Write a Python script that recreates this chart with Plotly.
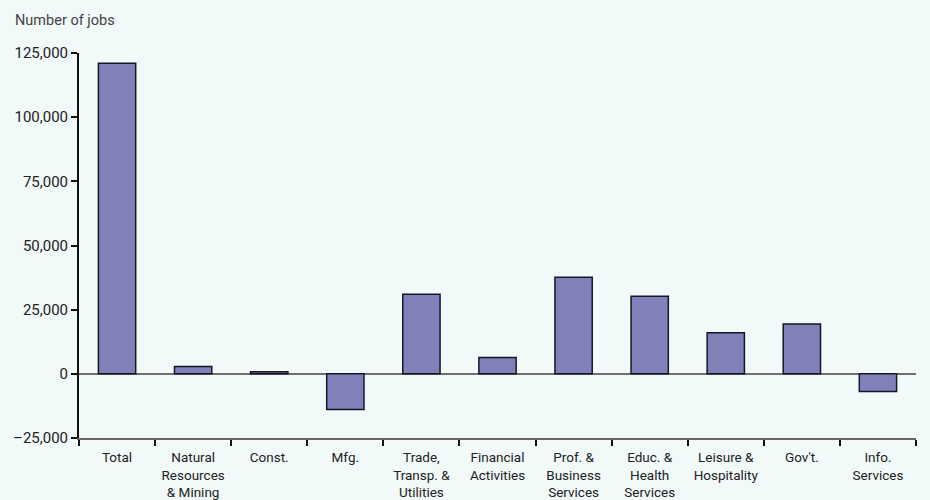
import plotly.graph_objects as go

# Job changes by sector
categories = [
    "Total",
    "Natural<br>Resources<br>& Mining",
    "Const.",
    "Mfg.",
    "Trade,<br>Transp. &<br>Utilities",
    "Financial<br>Activities",
    "Prof. &<br>Business<br>Services",
    "Educ. &<br>Health<br>Services",
    "Leisure &<br>Hospitality",
    "Gov't.",
    "Info.<br>Services",
]
jobs = [121000, 2900, 800, -13900, 31000, 6400, 37600, 30200, 16000, 19400, -6900]

y_tick_values = [-25000, 0, 25000, 50000, 75000, 100000, 125000]
y_tick_labels = ["\u201325,000", "0", "25,000", "50,000", "75,000", "100,000", "125,000"]

FONT = "Roboto, Liberation Sans, sans-serif"
BG = "#f1f9f9"

fig = go.Figure(
    go.Bar(
        x=categories,
        y=jobs,
        width=0.49,
        marker=dict(color="#8181b9", line=dict(color="#161625", width=1.5)),
        hoverinfo="skip",
    )
)

fig.update_layout(
    width=930,
    height=500,
    paper_bgcolor=BG,
    plot_bgcolor=BG,
    margin=dict(l=79, r=14, t=53, b=62),
    showlegend=False,
    font=dict(family=FONT, size=14, color="#222222"),
    annotations=[
        dict(
            text="Number of jobs",
            xref="paper",
            yref="paper",
            x=-0.0789,
            y=1.0857,
            xanchor="left",
            yanchor="middle",
            showarrow=False,
            font=dict(family=FONT, size=14.5, color="#444444"),
        )
    ],
)

fig.update_xaxes(
    type="category",
    tickson="boundaries",
    automargin=False,
    tickangle=0,
    showgrid=False,
    zeroline=False,
    showline=True,
    linecolor="#666666",
    linewidth=1.5,
    ticks="outside",
    ticklen=6,
    tickwidth=2,
    tickcolor="#111111",
    ticklabelstandoff=6,
    tickfont=dict(family=FONT, size=13.5, color="#222222"),
)

fig.update_yaxes(
    range=[-25000, 125000],
    automargin=False,
    tickmode="array",
    tickvals=y_tick_values,
    ticktext=y_tick_labels,
    showgrid=False,
    zeroline=True,
    zerolinecolor="#707070",
    zerolinewidth=1.5,
    showline=True,
    linecolor="#111111",
    linewidth=2,
    ticks="outside",
    ticklen=6,
    tickwidth=1.5,
    tickcolor="#111111",
    tickfont=dict(family=FONT, size=15, color="#222222"),
)

fig.write_html("out.html")
